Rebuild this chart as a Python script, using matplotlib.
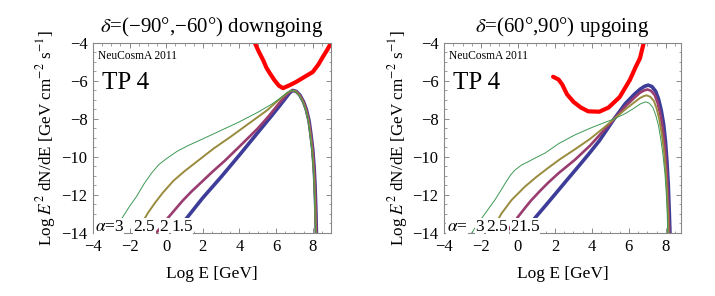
import matplotlib
matplotlib.use("Agg")
import matplotlib.pyplot as plt
from matplotlib.ticker import MultipleLocator

# ---- data (log10 E [GeV], log10 E^2 dN/dE) ----
# left panel: delta = (-90, -60) downgoing
L_red_x = [4.84, 5.05, 5.29, 5.47, 5.66, 5.9, 6.15, 6.38, 6.75, 7.1, 7.46, 8.0, 8.3, 8.55, 8.8, 9.0]
L_red_y = [-4.0, -4.45, -4.9, -5.3, -5.6, -5.95, -6.25, -6.38, -6.22, -6.05, -5.84, -5.53, -5.15, -4.74, -4.35, -4.0]

L_a3_x = [-2.82, -2.4, -2.0, -1.6, -1.2, -0.8, -0.4, 0.0, 0.6, 1.2, 2.0, 3.0, 4.0, 5.0, 5.8, 6.3, 6.6, 6.85,
          7.05, 7.25, 7.45, 7.6, 7.75, 7.85, 7.95, 8.03, 8.08, 8.12, 8.15]
L_a3_y = [-14.0, -13.2, -12.6, -12.05, -11.4, -10.85, -10.4, -10.1, -9.7, -9.4, -9.05, -8.6, -8.15, -7.65, -7.2, -6.85, -6.62, -6.5,
          -6.55, -6.75, -7.1, -7.5, -8.1, -8.8, -9.6, -10.6, -11.6, -12.8, -14.0]
L_a25_x = [-1.64, -1.3, -1.0, -0.6, -0.2, 0.4, 1.0, 1.8, 2.6, 3.5, 4.5, 5.5, 6.0, 6.4, 6.65, 6.87,
           7.07, 7.27, 7.47, 7.62, 7.77, 7.87, 7.97, 8.05, 8.1, 8.14, 8.17]
L_a25_y = [-14.0, -13.45, -12.95, -12.4, -11.9, -11.25, -10.75, -10.15, -9.55, -8.95, -8.25, -7.55, -7.12, -6.8, -6.6, -6.5,
           -6.55, -6.75, -7.1, -7.5, -8.1, -8.8, -9.6, -10.6, -11.6, -12.8, -14.0]
L_a2_x = [-0.55, -0.2, 0.1, 0.5, 0.9, 1.4, 1.9, 2.5, 3.2, 4.0, 5.0, 5.6, 6.1, 6.45, 6.7, 6.88,
          7.09, 7.29, 7.49, 7.64, 7.79, 7.89, 7.99, 8.07, 8.12, 8.16, 8.19]
L_a2_y = [-14.0, -13.6, -13.2, -12.75, -12.3, -11.8, -11.35, -10.8, -10.2, -9.45, -8.5, -7.85, -7.25, -6.85, -6.6, -6.5,
          -6.55, -6.75, -7.1, -7.5, -8.1, -8.8, -9.6, -10.6, -11.6, -12.8, -14.0]
L_a15_x = [0.45, 0.8, 1.2, 2.0, 3.0, 4.0, 5.0, 5.8, 6.2, 6.5, 6.72, 6.9,
           7.1, 7.3, 7.5, 7.65, 7.8, 7.9, 8.0, 8.08, 8.13, 8.17, 8.2]
L_a15_y = [-14.0, -13.6, -13.12, -12.15, -11.05, -9.9, -8.72, -7.78, -7.3, -6.93, -6.65, -6.5,
           -6.55, -6.75, -7.1, -7.5, -8.1, -8.8, -9.6, -10.6, -11.6, -12.8, -14.0]

# right panel: delta = (60, 90) upgoing
R_red_x = [1.9, 2.2, 2.4, 2.65, 3.0, 3.4, 3.8, 4.4, 4.9, 5.5, 6.05, 6.35, 6.6, 6.8]
R_red_y = [-5.78, -5.93, -6.2, -6.7, -7.1, -7.4, -7.6, -7.62, -7.4, -6.85, -5.95, -5.3, -4.8, -4.0]

R_a3_x = [-2.5, -2.2, -1.87, -1.5, -1.24, -0.95, -0.7, -0.4, -0.15, 0.2, 0.56, 1.0, 1.46, 2.2, 3.08, 4.0, 4.6,
          5.2, 5.8, 6.3, 6.6, 6.9, 7.1, 7.3, 7.45, 7.6, 7.73, 7.85, 7.95, 8.02, 8.07, 8.1]
R_a3_y = [-14.0, -13.55, -13.1, -12.6, -12.25, -11.8, -11.4, -10.95, -10.68, -10.42, -10.25, -10.02, -9.8, -9.3, -8.84, -8.45, -8.22,
          -8.0, -7.72, -7.42, -7.22, -7.1, -7.17, -7.4, -7.8, -8.35, -9.1, -9.95, -10.9, -11.9, -12.9, -14.0]
R_a25_x = [-1.55, -1.2, -0.88, -0.34, 0.38, 1.0, 1.6, 2.3, 3.08, 3.9, 4.6, 5.2, 5.8, 6.3, 6.6, 6.8, 6.95,
           7.15, 7.35, 7.5, 7.65, 7.78, 7.9, 7.99, 8.06, 8.11, 8.14]
R_a25_y = [-14.0, -13.5, -12.96, -12.26, -11.56, -11.05, -10.6, -10.1, -9.6, -9.05, -8.5, -8.0, -7.5, -7.12, -6.9, -6.8, -6.76,
           -6.83, -7.05, -7.45, -8.05, -8.8, -9.7, -10.7, -11.8, -12.9, -14.0]
R_a2_x = [-0.65, -0.3, -0.02, 0.35, 0.7, 1.2, 1.64, 2.2, 3.08, 3.9, 4.6, 5.2, 5.8, 6.3, 6.6, 6.8, 7.0,
          7.2, 7.4, 7.55, 7.7, 7.83, 7.94, 8.02, 8.09, 8.14, 8.18]
R_a2_y = [-14.0, -13.55, -13.18, -12.72, -12.3, -11.78, -11.35, -10.85, -10.15, -9.4, -8.65, -8.0, -7.35, -6.88, -6.62, -6.51, -6.45,
          -6.52, -6.75, -7.15, -7.75, -8.5, -9.4, -10.5, -11.6, -12.8, -14.0]
R_a15_x = [0.25, 0.6, 1.0, 1.5, 2.0, 2.6, 3.2, 3.8, 4.4, 5.2, 5.8, 6.3, 6.6, 6.85, 7.05,
           7.25, 7.45, 7.6, 7.75, 7.88, 7.98, 8.06, 8.13, 8.18, 8.22]
R_a15_y = [-14.0, -13.6, -13.12, -12.55, -11.97, -11.27, -10.58, -9.88, -9.15, -8.0, -7.2, -6.7, -6.44, -6.28, -6.22,
           -6.3, -6.55, -6.95, -7.55, -8.3, -9.2, -10.3, -11.5, -12.8, -14.0]

L_labels = ["$\\alpha$=3", "2.5", "2", "1.5"]
L_label_x = [-3.9, -1.78, -0.37, 0.26]
R_labels = ["$\\alpha$=", "3", "2.5", "2", "1.5"]
R_label_x = [-3.85, -2.32, -1.69, -0.43, 0.02]

titles = ["$\\delta$=(\u221290\u00b0,\u221260\u00b0) downgoing", "$\\delta$=(60\u00b0,90\u00b0) upgoing"]

c_blue = (0.24, 0.24, 0.6)
c_mag = (0.6, 0.24, 0.442)
c_gold = (0.6, 0.547, 0.24)
c_green = (0.24, 0.6, 0.33)

plt.rcParams["font.family"] = ["Liberation Serif", "DejaVu Serif"]
plt.rcParams["mathtext.fontset"] = "stix"

fig = plt.figure(figsize=(7.15, 2.96), dpi=100)
axL = fig.add_axes([0.130, 0.213, 0.333, 0.642])
axR = fig.add_axes([0.621, 0.213, 0.331, 0.642])


def panel(ax, red, curves, xmax, labels, label_x, title):
    ax.plot(*red, color="red", lw=3.0, solid_joinstyle="round", solid_capstyle="round")
    for (x, y), col, lw in zip(curves, [c_blue, c_mag, c_gold, c_green], [2.6, 1.9, 1.4, 0.7]):
        ax.plot(x, y, color=col, lw=lw, solid_joinstyle="round")
    ax.set_xlim(-4, xmax)
    ax.set_ylim(-14, -4)
    ax.xaxis.set_major_locator(MultipleLocator(2))
    ax.xaxis.set_minor_locator(MultipleLocator(0.5))
    ax.yaxis.set_major_locator(MultipleLocator(2))
    ax.yaxis.set_minor_locator(MultipleLocator(0.5))
    ax.tick_params(which="both", direction="in", top=True, right=True, color="#777777",
                   labelsize=12, pad=4)
    ax.tick_params(which="major", length=3.5, width=0.6)
    ax.tick_params(which="minor", length=1.8, width=0.5)
    for s in ax.spines.values():
        s.set_color("#888888")
        s.set_linewidth(0.8)
    ax.text(0.02, 0.965, "NeuCosmA 2011", transform=ax.transAxes, fontsize=8.3, va="top", ha="left")
    ax.text(0.04, 0.79, "TP 4", transform=ax.transAxes, fontsize=18, va="center", ha="left")
    for t, lx in zip(labels, label_x):
        ax.text(lx, -13.88, t, fontsize=12.5, va="baseline", ha="left",
                bbox=dict(facecolor="white", edgecolor="none", pad=0.3))
    ax.set_title(title, fontsize=15, pad=8)
    ax.set_xlabel("Log E [GeV]", fontsize=12.5, labelpad=8)
    ax.set_ylabel("Log $E^2$ dN/dE [GeV cm$^{-2}$ s$^{-1}$]", fontsize=12.3, labelpad=2)


panel(axL, (L_red_x, L_red_y),
      [(L_a15_x, L_a15_y), (L_a2_x, L_a2_y), (L_a25_x, L_a25_y), (L_a3_x, L_a3_y)],
      9.0, L_labels, L_label_x, titles[0])
panel(axR, (R_red_x, R_red_y),
      [(R_a15_x, R_a15_y), (R_a2_x, R_a2_y), (R_a25_x, R_a25_y), (R_a3_x, R_a3_y)],
      8.8, R_labels, R_label_x, titles[1])

fig.savefig("out.png", dpi=100)
